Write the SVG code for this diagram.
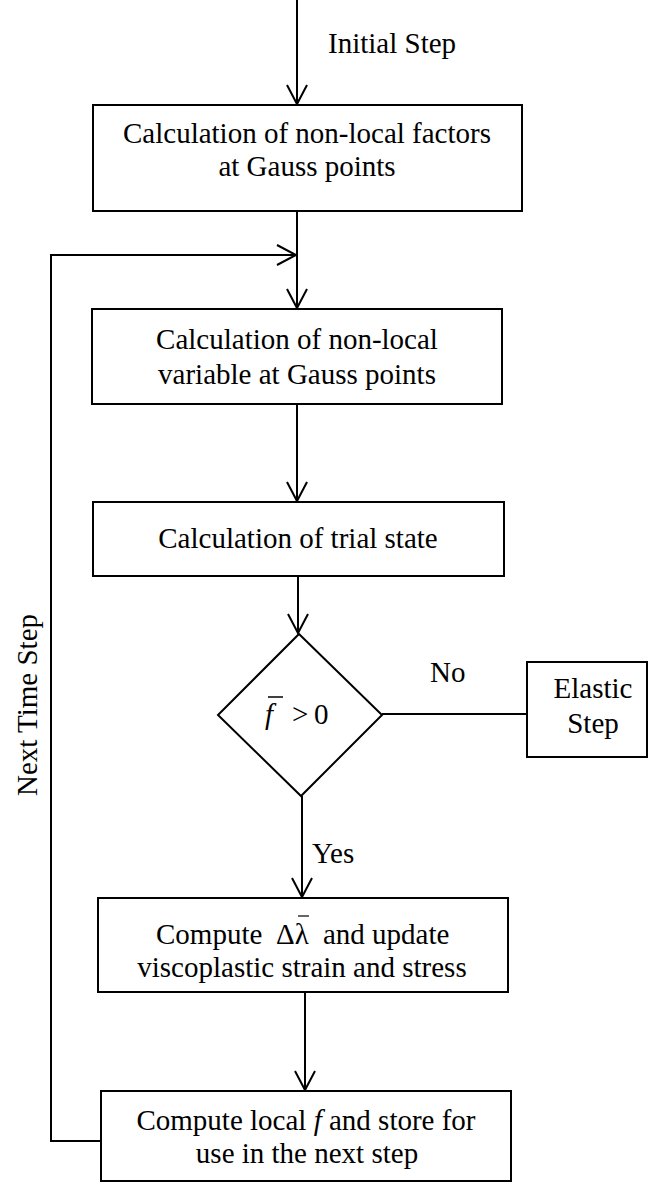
<svg xmlns="http://www.w3.org/2000/svg" width="649" height="1182" viewBox="0 0 649 1182" font-family="Liberation Serif, Times New Roman, Times, serif" font-size="29">
<style>
.box{fill:#fff;stroke:#000;stroke-width:2}
.ln{fill:none;stroke:#000;stroke-width:2}
text{font-family:'Liberation Serif','Times New Roman',Times,serif;font-size:29px;fill:#000}
.c{text-anchor:middle}
.it{font-style:italic}
</style>
<defs>
<marker id="arr" markerUnits="userSpaceOnUse" markerWidth="24" markerHeight="24" viewBox="-21 -12 24 24" refX="0" refY="0" orient="auto">
<path d="M-19,-10 L0,0 L-19,10" fill="none" stroke="#000" stroke-width="2"/>
</marker>
</defs>
<g id="connectors">
<line class="ln" x1="297" y1="0" x2="297" y2="104" marker-end="url(#arr)"/>
<line class="ln" x1="297" y1="211" x2="297" y2="308" marker-end="url(#arr)"/>
<line class="ln" x1="297" y1="404" x2="297" y2="501" marker-end="url(#arr)"/>
<line class="ln" x1="298" y1="576" x2="298" y2="633" marker-end="url(#arr)"/>
<line class="ln" x1="382" y1="714" x2="527" y2="714"/>
<line class="ln" x1="302" y1="796" x2="302" y2="897" marker-end="url(#arr)"/>
<line class="ln" x1="305" y1="992" x2="305" y2="1090" marker-end="url(#arr)"/>
<polyline class="ln" points="101,1141 51,1141 51,255 296,255" marker-end="url(#arr)"/>
<text x="328" y="53">Initial Step</text>
<text x="430" y="682">No</text>
<text x="312" y="863">Yes</text>
<text class="c" transform="translate(37,705) rotate(-90)" x="0" y="0">Next Time Step</text>
</g>
<g id="n1">
<rect class="box" x="93" y="105" width="429" height="106"/>
<text class="c" x="307" y="143">Calculation of non-local factors</text>
<text class="c" x="307" y="176">at Gauss points</text>
</g>
<g id="n2">
<rect class="box" x="92" y="309" width="410" height="95"/>
<text class="c" x="297" y="349">Calculation of non-local</text>
<text class="c" x="297" y="384">variable at Gauss points</text>
</g>
<g id="n3">
<rect class="box" x="93" y="502" width="411" height="74"/>
<text class="c" x="298" y="548">Calculation of trial state</text>
</g>
<g id="n4">
<polygon class="box" points="299,634 382,715 301,796 218,715"/>
<text class="it" x="265" y="724">f</text>
<line x1="268" y1="697" x2="283" y2="697" stroke="#000" stroke-width="1.5"/>
<text x="292" y="724">&gt;</text>
<text x="314" y="724">0</text>
</g>
<g id="n5">
<rect class="box" x="527" y="662" width="120" height="95"/>
<text class="c" x="593" y="698">Elastic</text>
<text class="c" x="593" y="733">Step</text>
</g>
<g id="n6">
<rect class="box" x="98" y="898" width="410" height="94"/>
<text x="156" y="944">Compute</text>
<text x="276" y="944" fill="#333">Δλ</text>
<line x1="298" y1="916" x2="309" y2="916" stroke="#333" stroke-width="1.5"/>
<text x="323" y="944">and update</text>
<text class="c" x="302" y="977">viscoplastic strain and stress</text>
</g>
<g id="n7">
<rect class="box" x="101" y="1091" width="410" height="90"/>
<text class="c" x="306" y="1130">Compute local <tspan class="it">f</tspan> and store for</text>
<text class="c" x="307" y="1163">use in the next step</text>
</g>
</svg>
